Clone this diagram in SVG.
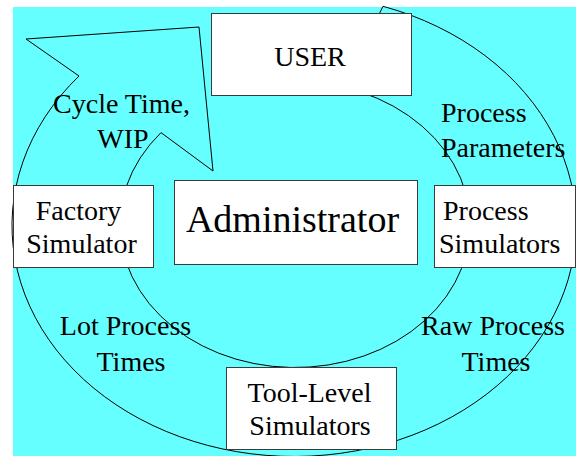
<svg xmlns="http://www.w3.org/2000/svg" width="576" height="456" viewBox="0 0 576 456">
  <style>
    .box { fill: #ffffff; stroke: #3a3a3a; stroke-width: 1; }
    .flow { fill: none; stroke: #000000; stroke-width: 1; stroke-linejoin: miter; }
    .t { font-family: 'Liberation Serif', 'DejaVu Serif', serif; font-size: 28px; fill: #000000; text-anchor: middle; }
    .big { font-size: 38px; }
    .left { text-anchor: start; }
  </style>

  <!-- page and cyan panel -->
  <rect x="0" y="0" width="576" height="456" fill="#ffffff"/>
  <rect x="13" y="7" width="563" height="449" fill="#66ffff"/>

  <!-- circular flow band with arrowhead -->
  <g id="connectors">
    <path class="flow" d="M 383 6.3 A 282 231 0 1 1 79 76 L 26 39 L 199 27 L 213 171 L 161 132.6 A 175 143 0 1 0 343 87 Z"/>
  </g>

  <!-- flow labels -->
  <g id="labels" font-family="Liberation Serif, serif">
    <text class="t" x="121.5" y="113">Cycle Time,</text>
    <text class="t" x="123" y="148">WIP</text>
    <text class="t left" x="441" y="122">Process</text>
    <text class="t left" x="441" y="157">Parameters</text>
    <text class="t" x="125.5" y="335">Lot Process</text>
    <text class="t" x="131" y="371">Times</text>
    <text class="t" x="493" y="335">Raw Process</text>
    <text class="t" x="496" y="371">Times</text>
  </g>

  <g id="user">
    <rect class="box" x="211.5" y="13.5" width="200" height="82"/>
    <text class="t" x="310" y="66">USER</text>
  </g>

  <g id="administrator">
    <rect class="box" x="174.5" y="180.5" width="243" height="84"/>
    <text class="t big" x="292.5" y="232">Administrator</text>
  </g>

  <g id="factory-simulator">
    <rect class="box" x="13.5" y="185.5" width="140" height="82"/>
    <text class="t" x="78.5" y="220">Factory</text>
    <text class="t" x="81.5" y="253">Simulator</text>
  </g>

  <g id="process-simulators">
    <rect class="box" x="434.5" y="185.5" width="141" height="82"/>
    <text class="t left" x="443" y="220">Process</text>
    <text class="t left" x="439" y="253">Simulators</text>
  </g>

  <g id="tool-level-simulators">
    <rect class="box" x="226.5" y="367.5" width="170" height="82"/>
    <text class="t" x="309.5" y="402">Tool-Level</text>
    <text class="t" x="310" y="435">Simulators</text>
  </g>
</svg>
